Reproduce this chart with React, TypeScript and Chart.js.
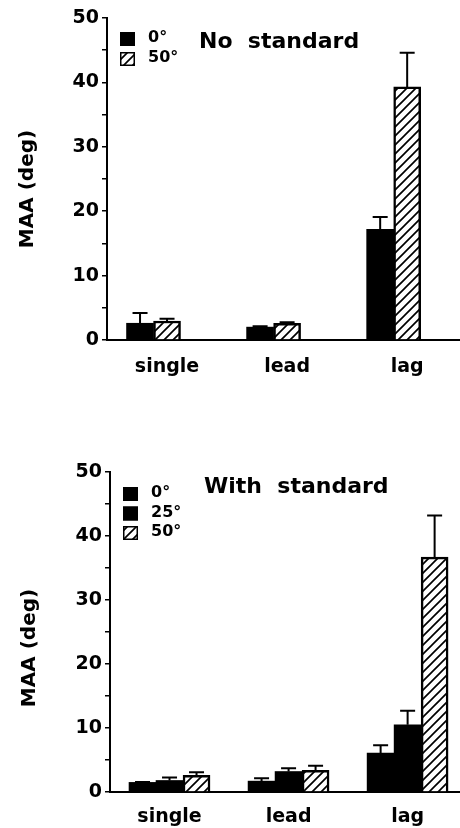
import { useEffect, useRef } from 'react';
import { Chart, registerables } from 'chart.js';

Chart.register(...registerables);

// ---- data ----
const CATEGORIES = ['single', 'lead', 'lag'];
const Y_LABELS = [0, 10, 20, 30, 40, 50];

const TOP_TITLE = 'No  standard';
const TOP_SERIES_LABELS = ['0°', '50°'];
const NS_0 = [2.6, 2.0, 17.2];
const NS_0_ERR = [1.6, 0.15, 1.9];
const NS_50 = [2.95, 2.6, 39.3];
const NS_50_ERR = [0.35, 0.15, 5.3];

const BOTTOM_TITLE = 'With  standard';
const BOTTOM_SERIES_LABELS = ['0°', '25°', '50°'];
const WS_0 = [1.5, 1.7, 6.1];
const WS_0_ERR = [0.05, 0.45, 1.2];
const WS_25 = [1.8, 3.2, 10.5];
const WS_25_ERR = [0.45, 0.5, 2.2];
const WS_50 = [2.6, 3.4, 36.7];
const WS_50_ERR = [0.5, 0.7, 6.5];

const Y_TITLE = 'MAA (deg)';
const FONT = '"DejaVu Sans", "Liberation Sans", Arial, sans-serif';

function toPoints(values: number[]) {
  return values.map((v, i) => ({ x: i + 1, y: v }));
}

function makeHatch(): CanvasPattern | string {
  const s = 9;
  const c = document.createElement('canvas');
  c.width = s;
  c.height = s;
  const g = c.getContext('2d');
  if (!g) return '#fff';
  g.fillStyle = '#fff';
  g.fillRect(0, 0, s, s);
  g.strokeStyle = '#000';
  g.lineWidth = 1.7;
  g.beginPath();
  g.moveTo(0, s);
  g.lineTo(s, 0);
  g.moveTo(-2, 2);
  g.lineTo(2, -2);
  g.moveTo(s - 2, s + 2);
  g.lineTo(s + 2, s - 2);
  g.stroke();
  return g.createPattern(c, 'repeat') || '#fff';
}

const errorBars = {
  id: 'errorBars',
  afterDatasetsDraw(chart: any) {
    const ctx = chart.ctx;
    const yScale = chart.scales.y;
    chart.data.datasets.forEach((ds: any, i: number) => {
      const errs: number[] | undefined = ds.errors;
      if (!errs) return;
      const meta = chart.getDatasetMeta(i);
      meta.data.forEach((bar: any, j: number) => {
        const v = ds.data[j].y;
        const top = yScale.getPixelForValue(v + errs[j]);
        ctx.save();
        ctx.strokeStyle = '#000';
        ctx.lineWidth = 2;
        ctx.beginPath();
        ctx.moveTo(bar.x, bar.y);
        ctx.lineTo(bar.x, top);
        ctx.moveTo(bar.x - 7.5, top);
        ctx.lineTo(bar.x + 7.5, top);
        ctx.stroke();
        ctx.restore();
      });
    });
  },
};

const panelDecor = {
  id: 'panelDecor',
  afterDraw(chart: any, _args: any, opts: any) {
    const ctx = chart.ctx;
    ctx.save();
    ctx.fillStyle = '#000';
    ctx.textBaseline = 'middle';
    ctx.textAlign = 'left';
    ctx.font = `bold 22px ${FONT}`;
    ctx.fillText(opts.title, opts.titleX, opts.titleY);

    ctx.font = `bold 16px ${FONT}`;
    let k = 0;
    chart.data.datasets.forEach((ds: any) => {
      if (!ds.label) return;
      const y = opts.legendY + k * opts.legendGap;
      ctx.fillStyle = ds.backgroundColor;
      ctx.fillRect(opts.legendX, y, 15, 14);
      ctx.strokeStyle = '#000';
      ctx.lineWidth = 1.5;
      ctx.strokeRect(opts.legendX + 0.75, y + 0.75, 13.5, 12.5);
      ctx.fillStyle = '#000';
      ctx.fillText(ds.label, opts.legendX + 28, y + 6);
      k++;
    });

    ctx.translate(opts.yTitleX, opts.yTitleY);
    ctx.rotate(-Math.PI / 2);
    ctx.textAlign = 'center';
    ctx.font = `bold 20px ${FONT}`;
    ctx.fillText(Y_TITLE, 0, 0);
    ctx.restore();
  },
};

function buildConfig(datasets: any[], decor: any, axisWidth: number, padTop: number, xHeight: number, xPad: number): any {
  return {
    type: 'bar',
    data: { datasets },
    plugins: [errorBars, panelDecor],
    options: {
      animation: false,
      responsive: false,
      layout: { padding: { top: padTop, left: 0, right: 0, bottom: 0 } },
      datasets: { bar: { barThickness: 27 } },
      plugins: {
        legend: { display: false },
        tooltip: { enabled: false },
        panelDecor: decor,
      },
      scales: {
        x: {
          type: 'linear',
          min: 0.5,
          max: 3.44,
          offset: false,
          bounds: 'ticks',
          grid: { display: false, drawTicks: false, offset: false },
          border: { display: true, color: '#000', width: 2 },
          afterBuildTicks: (scale: any) => {
            scale.ticks = CATEGORIES.map((_, i) => ({ value: i + 1 }));
          },
          afterFit: (scale: any) => {
            scale.height = xHeight;
          },
          ticks: {
            autoSkip: false,
            maxRotation: 0,
            minRotation: 0,
            padding: xPad,
            color: '#000',
            font: { family: FONT, size: 19, weight: 'bold' },
            callback: (v: number) => CATEGORIES[Math.round(v) - 1] ?? '',
          },
        },
        y: {
          min: 0,
          max: 50,
          grid: {
            display: true,
            drawOnChartArea: false,
            drawTicks: true,
            tickLength: 5,
            color: '#000',
            lineWidth: 1.5,
          },
          border: { display: true, color: '#000', width: 2 },
          afterFit: (scale: any) => {
            scale.width = axisWidth;
          },
          ticks: {
            stepSize: 5,
            padding: 3,
            color: '#000',
            font: { family: FONT, size: 19, weight: 'bold' },
            callback: (v: number) => (Y_LABELS.includes(v) ? String(v) : ''),
          },
        },
      },
    },
  };
}

function Panel({ top, height, make }: { top: number; height: number; make: () => any }) {
  const ref = useRef<HTMLCanvasElement>(null);
  useEffect(() => {
    if (!ref.current) return;
    const chart = new Chart(ref.current, make());
    return () => chart.destroy();
  }, []);
  return (
    <div style={{ position: 'absolute', left: 0, top, width: 460, height }}>
      <canvas ref={ref} width={460} height={height} style={{ display: 'block' }} />
    </div>
  );
}

function topConfig() {
  const hatch = makeHatch();
  const datasets = [
    { label: TOP_SERIES_LABELS[0], data: toPoints(NS_0), errors: NS_0_ERR, backgroundColor: '#000', borderWidth: 0 },
    { label: TOP_SERIES_LABELS[1], data: toPoints(NS_50), errors: NS_50_ERR, backgroundColor: hatch, borderColor: '#000', borderWidth: 2.5 },
    // empty third slot of each group (the figure reserves space for three conditions)
    { label: '', data: [], backgroundColor: 'transparent' },
  ];
  return buildConfig(
    datasets,
    { title: TOP_TITLE, titleX: 199, titleY: 42, legendX: 120, legendY: 32, legendGap: 20, yTitleX: 28, yTitleY: 189 },
    107,
    18,
    80,
    16,
  );
}

function bottomConfig() {
  const hatch = makeHatch();
  const datasets = [
    { label: BOTTOM_SERIES_LABELS[0], data: toPoints(WS_0), errors: WS_0_ERR, backgroundColor: '#000', borderWidth: 0 },
    { label: BOTTOM_SERIES_LABELS[1], data: toPoints(WS_25), errors: WS_25_ERR, backgroundColor: '#000', borderWidth: 0 },
    { label: BOTTOM_SERIES_LABELS[2], data: toPoints(WS_50), errors: WS_50_ERR, backgroundColor: hatch, borderColor: '#000', borderWidth: 2.5 },
  ];
  return buildConfig(
    datasets,
    { title: BOTTOM_TITLE, titleX: 204, titleY: 67, legendX: 123, legendY: 67, legendGap: 19.5, yTitleX: 30, yTitleY: 228 },
    110,
    52,
    36,
    14,
  );
}

export default function App() {
  return (
    <div style={{ position: 'absolute', left: 0, top: 0, width: 460, height: 828, background: '#fff', overflow: 'hidden' }}>
      <Panel top={0} height={420} make={topConfig} />
      <Panel top={420} height={408} make={bottomConfig} />
    </div>
  );
}
